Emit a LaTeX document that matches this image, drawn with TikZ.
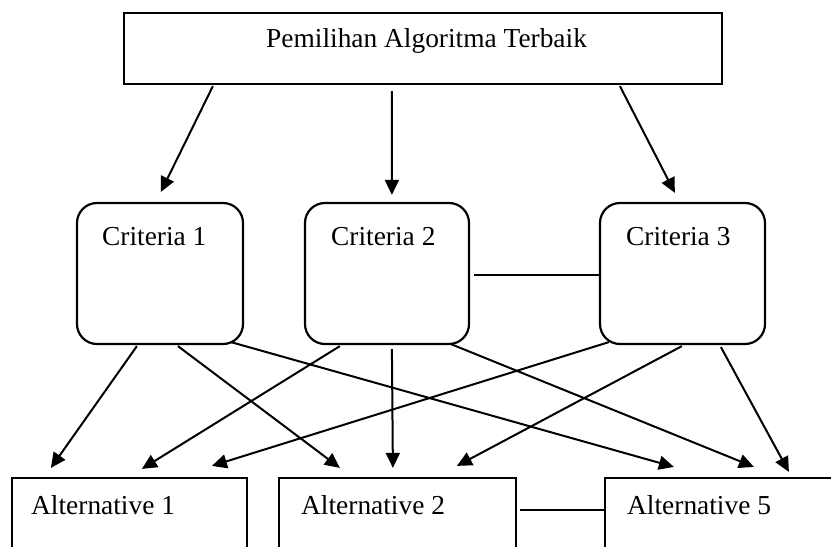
\documentclass[tikz,border=0pt]{standalone}
\usepackage{fontspec}
\setmainfont{Liberation Serif}
\usetikzlibrary{arrows.meta,calc}

\begin{document}
\begin{tikzpicture}[x=1bp,y=-1bp,
  box/.style={draw, line width=2.2bp, rectangle, inner sep=0pt},
  critbox/.style={box, rounded corners=20bp},
  txt/.style={inner sep=0pt, anchor=base west, font=\fontsize{27.5pt}{32pt}\selectfont},
  arr/.style={line width=2bp, -{Triangle[length=15bp,width=14bp]}},
  link/.style={line width=2bp}]
  \useasboundingbox (0,0) rectangle (831,547);
  \clip (0,0) rectangle (831,547);

  % goal
  \node[box, minimum width=598bp, minimum height=71bp] (top) at (423,48.5) {};
  \node[txt] (toptxt) at (266,48) {Pemilihan Algoritma Terbaik};

  % criteria
  \node[critbox, minimum width=166bp, minimum height=141bp] (c1) at (160,273.5) {};
  \node[critbox, minimum width=164bp, minimum height=141bp] (c2) at (387,273.5) {};
  \node[critbox, minimum width=165bp, minimum height=141bp] (c3) at (682.5,273.5) {};
  \node[txt] (c1t) at (102,246) {Criteria 1};
  \node[txt] (c2t) at (331,246) {Criteria 2};
  \node[txt] (c3t) at (626,246) {Criteria 3};

  % alternatives
  \node[box, minimum width=235bp, minimum height=100bp] (a1) at (129.5,528) {};
  \node[box, minimum width=237bp, minimum height=100bp] (a2) at (397.5,528) {};
  \node[box, minimum width=295bp, minimum height=100bp] (a5) at (752.5,528) {};
  \node[txt] (a1t) at (31,514) {Alternative 1};
  \node[txt] (a2t) at (301,514) {Alternative 2};
  \node[txt] (a5t) at (627,514) {Alternative 5};

  % goal -> criteria
  \draw[arr] ($(top.south west)+(90,1)$)  -- ($(c1.north west)+(85,-10)$);
  \draw[arr] ($(top.south west)+(269,6)$) -- ($(c2.north west)+(88,-7)$);
  \draw[arr] ($(top.south west)+(497,1)$) -- ($(c3.north west)+(76,-9)$);

  % criteria -> alternatives
  \draw[arr] ($(c1.south west)+(61,1)$)   -- ($(a1.north west)+(40,-9)$);
  \draw[arr] ($(c1.south west)+(102,1)$)  -- ($(a2.north west)+(62,-9)$);
  \draw[arr] ($(c1.south west)+(155,-3)$) -- ($(a5.north west)+(70,-10)$);
  \draw[arr] ($(c2.south west)+(36,1)$)   -- ($(a1.north west)+(131,-8)$);
  \draw[arr] ($(c2.south west)+(88,4)$)   -- ($(a2.north west)+(115,-9)$);
  \draw[arr] ($(c2.south west)+(147,-1)$) -- ($(a5.north west)+(150,-10)$);
  \draw[arr] ($(c3.south west)+(10,-3)$)  -- ($(a1.north west)+(201,-11)$);
  \draw[arr] ($(c3.south west)+(83,1)$)   -- ($(a2.north west)+(179,-11)$);
  \draw[arr] ($(c3.south west)+(122,2)$)  -- ($(a5.north west)+(185,-5)$);

  % plain links
  \draw[link] ($(c2.east)+(4,1.5)$) -- ($(c3.west)+(0,1.5)$);
  \draw[link] ($(a2.north east)+(3,33)$) -- ($(a5.north west)+(0,33)$);
\end{tikzpicture}
\end{document}
